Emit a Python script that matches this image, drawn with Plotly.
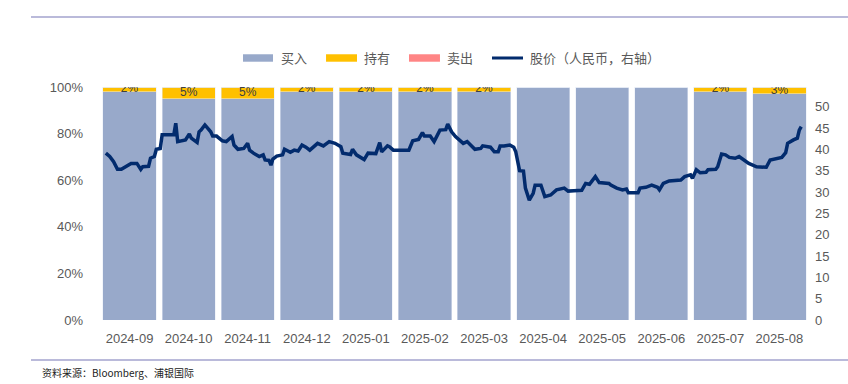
import plotly.graph_objects as go

# ---------------- data ----------------
months = ["2024-09", "2024-10", "2024-11", "2024-12", "2025-01", "2025-02",
          "2025-03", "2025-04", "2025-05", "2025-06", "2025-07", "2025-08"]
buy = [98, 95, 95, 98, 98, 98, 98, 100, 100, 100, 98, 97]
hold = [2, 5, 5, 2, 2, 2, 2, 0, 0, 0, 2, 3]
sell = [0, 0, 0, 0, 0, 0, 0, 0, 0, 0, 0, 0]

price_dates = [
    "2024-09-04", "2024-09-06", "2024-09-08", "2024-09-10", "2024-09-12", "2024-09-14",
    "2024-09-15", "2024-09-17", "2024-09-20", "2024-09-22", "2024-09-23", "2024-09-26",
    "2024-09-27", "2024-09-29", "2024-09-30", "2024-10-02", "2024-10-03", "2024-10-09",
    "2024-10-10", "2024-10-11", "2024-10-15", "2024-10-17", "2024-10-18", "2024-10-21",
    "2024-10-22", "2024-10-23", "2024-10-25", "2024-10-28", "2024-10-29", "2024-10-31",
    "2024-11-03", "2024-11-05", "2024-11-08", "2024-11-09", "2024-11-11", "2024-11-14",
    "2024-11-16", "2024-11-17", "2024-11-19", "2024-11-22", "2024-11-24", "2024-11-25",
    "2024-11-27", "2024-11-28", "2024-11-29", "2024-12-01", "2024-12-04", "2024-12-05",
    "2024-12-08", "2024-12-10", "2024-12-12", "2024-12-14", "2024-12-16", "2024-12-18",
    "2024-12-22", "2024-12-25", "2024-12-28", "2024-12-31", "2025-01-03", "2025-01-04",
    "2025-01-08", "2025-01-09", "2025-01-11", "2025-01-14", "2025-01-15", "2025-01-17",
    "2025-01-20", "2025-01-21", "2025-01-23", "2025-01-24", "2025-01-27", "2025-01-28",
    "2025-01-30", "2025-02-07", "2025-02-09", "2025-02-12", "2025-02-14", "2025-02-15",
    "2025-02-18", "2025-02-20", "2025-02-23", "2025-02-26", "2025-02-27", "2025-03-01",
    "2025-03-03", "2025-03-04", "2025-03-07", "2025-03-09", "2025-03-11", "2025-03-13",
    "2025-03-16", "2025-03-17", "2025-03-21", "2025-03-23", "2025-03-25", "2025-03-26",
    "2025-03-28", "2025-03-31", "2025-04-02", "2025-04-03", "2025-04-05", "2025-04-07",
    "2025-04-08", "2025-04-10", "2025-04-12", "2025-04-13", "2025-04-16", "2025-04-18",
    "2025-04-21", "2025-04-24", "2025-04-28", "2025-04-30", "2025-05-03", "2025-05-07",
    "2025-05-09", "2025-05-11", "2025-05-14", "2025-05-16", "2025-05-21", "2025-05-22",
    "2025-05-25", "2025-05-28", "2025-05-30", "2025-05-31", "2025-06-05", "2025-06-06",
    "2025-06-09", "2025-06-12", "2025-06-15", "2025-06-16", "2025-06-18", "2025-06-21",
    "2025-06-27", "2025-06-29", "2025-07-02", "2025-07-03", "2025-07-05", "2025-07-07",
    "2025-07-10", "2025-07-11", "2025-07-15", "2025-07-16", "2025-07-18", "2025-07-20",
    "2025-07-22", "2025-07-25", "2025-07-27", "2025-07-30", "2025-08-01", "2025-08-05",
    "2025-08-09", "2025-08-10", "2025-08-12", "2025-08-14", "2025-08-18", "2025-08-20",
    "2025-08-21", "2025-08-24", "2025-08-26", "2025-08-27", "2025-08-28",
]
price_values = [
    39.1, 38.3, 37.1, 35.3, 35.3, 35.9,
    36.0, 36.7, 36.7, 35.3, 35.9, 36.0,
    37.9, 38.3, 40.0, 40.2, 43.4, 43.4,
    46.1, 41.8, 42.2, 43.6, 42.6, 41.6,
    44.1, 44.5, 45.7, 44.1, 43.1, 43.1,
    42.0, 41.8, 43.0, 41.0, 40.0, 40.2,
    41.4, 39.8, 39.1, 38.3, 38.7, 37.5,
    37.4, 36.3, 37.7, 38.4, 38.7, 40.0,
    39.3, 39.8, 39.6, 41.0, 40.5, 39.8,
    41.4, 40.8, 41.8, 41.4, 40.6, 39.1,
    38.8, 40.0, 38.7, 37.7, 37.6, 39.1,
    39.0, 39.0, 41.6, 39.4, 40.8, 40.6,
    39.8, 39.8, 42.0, 42.3, 43.9, 43.1,
    43.1, 41.8, 44.5, 44.6, 45.9, 44.1,
    43.0, 42.6, 41.4, 41.8, 41.0, 40.0,
    40.2, 40.8, 40.5, 39.4, 39.4, 40.8,
    40.8, 41.0, 40.5, 39.5, 35.0, 34.9,
    30.9, 28.1, 29.7, 31.6, 31.6, 28.9,
    29.3, 30.5, 30.9, 30.2, 30.3, 30.4,
    32.0, 31.8, 33.6, 32.2, 32.0, 31.6,
    30.9, 30.5, 30.7, 29.8, 29.8, 30.9,
    31.1, 31.6, 31.1, 30.5, 32.0, 32.6,
    32.8, 33.6, 34.0, 33.2, 35.2, 34.5,
    34.6, 35.2, 35.3, 35.9, 38.9, 38.7,
    38.1, 37.9, 38.3, 37.3, 36.7, 35.9,
    35.9, 35.8, 37.5, 37.7, 38.1, 39.2,
    41.4, 42.2, 42.6, 44.5, 45.3,
]

series_names = ["买入", "持有", "卖出", "股价（人民币，右轴）"]
pct_ticks = [0, 20, 40, 60, 80, 100]
pct_labels = [f"{v}%" for v in pct_ticks]
price_ticks = [0, 5, 10, 15, 20, 25, 30, 35, 40, 45, 50]

# ---------------- style ----------------
C_BUY = "#98A9CA"
C_HOLD = "#FFC000"
C_SELL = "#FF8585"
C_LINE = "#022B6D"
C_TEXT = "#595959"
FONT = "Liberation Sans, Noto Sans CJK SC, sans-serif"
CJK = "Noto Sans CJK SC, sans-serif"

fig = go.Figure()
fig.add_trace(go.Bar(x=months, y=buy, name=series_names[0], marker_color=C_BUY,
                     showlegend=False, xaxis="x", yaxis="y"))
fig.add_trace(go.Bar(x=months, y=hold, name=series_names[1], marker_color=C_HOLD,
                     showlegend=False, xaxis="x", yaxis="y"))
fig.add_trace(go.Bar(x=months, y=sell, name=series_names[2], marker_color=C_SELL,
                     showlegend=False, xaxis="x", yaxis="y"))
# percent labels on the 持有 segments
fig.add_trace(go.Scatter(
    x=months, y=[b + h / 2 for b, h in zip(buy, hold)],
    text=[f"{h}%" if h > 0 else "" for h in hold],
    mode="text", textfont=dict(size=12, color="#404040", family=FONT),
    showlegend=False, hoverinfo="skip", xaxis="x", yaxis="y"))
fig.add_trace(go.Scatter(x=price_dates, y=price_values, name=series_names[3],
                         mode="lines", line=dict(color=C_LINE, width=3.5),
                         showlegend=False, xaxis="x2", yaxis="y2"))

fig.update_layout(
    width=848, height=384,
    margin=dict(l=100, r=39, t=87, b=64, autoexpand=False),
    paper_bgcolor="white", plot_bgcolor="white",
    barmode="stack", bargap=0.1,
    font=dict(family=FONT, size=13, color=C_TEXT),
    xaxis=dict(type="category", range=[-0.5, len(months) - 0.5],
               showgrid=False, showline=False, ticks="",
               zeroline=False, tickfont=dict(size=13, color=C_TEXT),
               ticklabelstandoff=9),
    xaxis2=dict(type="date", overlaying="x", range=["2024-09-01", "2025-09-01"],
                visible=False),
    yaxis=dict(range=[0, 100], tickvals=pct_ticks, ticktext=pct_labels,
               showgrid=False, zeroline=False, showline=False, ticks="",
               tickfont=dict(size=13, color=C_TEXT), ticklabelstandoff=16),
    yaxis2=dict(range=[0, 54.6], tickvals=price_ticks, overlaying="y", side="right",
                showgrid=False, zeroline=False, showline=False, ticks="",
                tickfont=dict(size=13, color=C_TEXT), ticklabelstandoff=5),
)

# ---- custom legend & frame ----
shapes = []
annos = []
legend_items = [
    (series_names[0], C_BUY, "rect", 0.2017, 0.2440, 0.2525),
    (series_names[1], C_HOLD, "rect", 0.3188, 0.3625, 0.3695),
    (series_names[2], C_SELL, "rect", 0.4358, 0.4795, 0.4866),
    (series_names[3], C_LINE, "line", 0.5529, 0.5966, 0.6037),
]
ly = 1.1245
for name, col, kind, x0, x1, tx in legend_items:
    if kind == "rect":
        shapes.append(dict(type="rect", xref="paper", yref="paper", x0=x0, x1=x1,
                           y0=ly - 0.016, y1=ly + 0.016, fillcolor=col, line_width=0))
    else:
        shapes.append(dict(type="line", xref="paper", yref="paper", x0=x0, x1=x1,
                           y0=ly, y1=ly, line=dict(color=col, width=3)))
    annos.append(dict(text=name, xref="paper", yref="paper", x=tx, y=ly,
                      xanchor="left", yanchor="middle", showarrow=False,
                      font=dict(family=CJK, size=13, color=C_TEXT)))

# top and bottom rules
shapes.append(dict(type="line", xref="paper", yref="paper", x0=-0.0973, x1=1.06,
                   y0=1.3004, y1=1.3004, line=dict(color="#A3A3CE", width=1.5)))
shapes.append(dict(type="line", xref="paper", yref="paper", x0=-0.0973, x1=1.06,
                   y0=-0.1717, y1=-0.1717, line=dict(color="#A3A3CE", width=1.5)))
annos.append(dict(text="资料来源：Bloomberg、浦银国际", xref="paper", yref="paper",
                  x=-0.0846, y=-0.2232, xanchor="left", yanchor="middle",
                  showarrow=False, font=dict(family=CJK, size=10, color="#222222")))

fig.update_layout(shapes=shapes, annotations=annos)
fig.write_html("out.html",
               config={"displayModeBar": False},
               post_script="document.body.style.margin='0';"
                           "document.body.style.overflow='hidden';")
